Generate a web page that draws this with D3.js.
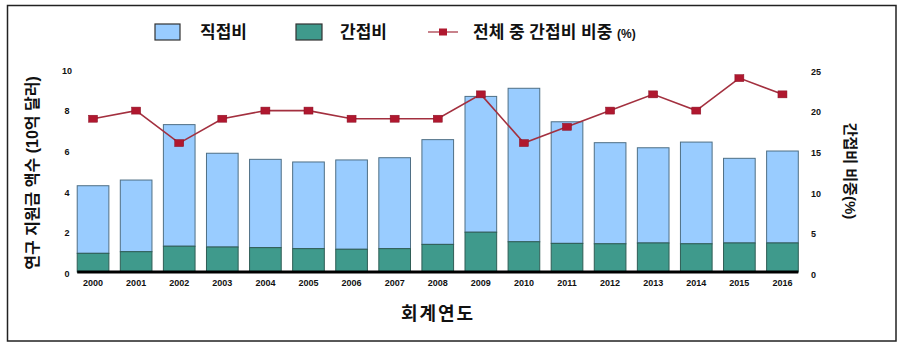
<!DOCTYPE html>
<html><head><meta charset="utf-8">
<script src="https://cdn.jsdelivr.net/npm/d3@7"></script>
<style>
html,body{margin:0;padding:0;background:#fff;}
svg text{font-family:"Liberation Sans","Noto Sans CJK KR",sans-serif;}
</style></head>
<body>
<svg id="c" width="906" height="360"></svg>
<script>
const years = ["2000","2001","2002","2003","2004","2005","2006","2007","2008","2009","2010","2011","2012","2013","2014","2015","2016"];
const indirect = [0.92,1.0,1.27,1.23,1.2,1.15,1.12,1.15,1.36,1.96,1.49,1.41,1.39,1.43,1.39,1.43,1.43];
const totals = [4.25,4.53,7.26,5.85,5.55,5.42,5.52,5.63,6.52,8.65,9.05,7.4,6.37,6.12,6.4,5.6,5.96];
const direct = totals.map((t,i)=>+(t-indirect[i]).toFixed(2));
const sharePct = [19,20,16,19,20,20,19,19,19,22,16,18,20,22,20,24,22];
const leftTicks = [0,2,4,6,8,10];
const rightTicks = [0,5,10,15,20,25];
const seriesNames = ["직접비","간접비","전체 중 간접비 비중"];

const svg = d3.select("#c");
const blue="#99CCFF", green="#3F9A8C", lineC="#A3303F", markC="#B0182F";

// frame
svg.append("rect").attr("x",7.5).attr("y",5.5).attr("width",888.5).attr("height",335.5)
  .attr("fill","none").attr("stroke","#222").attr("stroke-width",1.5);

const x = d3.scaleBand().domain(years).range([71.5,804]).paddingInner(0.265).paddingOuter(0.1325);
const yL = d3.scaleLinear().domain([0,10]).range([272,69]);
const yR = d3.scaleLinear().domain([0,25]).range([273,70]);

// bars
const g = svg.append("g");
years.forEach((yr,i)=>{
  g.append("rect").attr("x",x(yr)).attr("width",x.bandwidth())
   .attr("y",yL(indirect[i]+direct[i])).attr("height",yL(indirect[i])-yL(indirect[i]+direct[i]))
   .attr("fill",blue).attr("stroke","#4F6F85").attr("stroke-width",1);
  g.append("rect").attr("x",x(yr)).attr("width",x.bandwidth())
   .attr("y",yL(indirect[i])).attr("height",yL(0)-yL(indirect[i]))
   .attr("fill",green).attr("stroke","#2F5D55").attr("stroke-width",1);
});
// baseline
svg.append("line").attr("x1",x(years[0])).attr("x2",x(years[years.length-1])+x.bandwidth())
  .attr("y1",yL(0)).attr("y2",yL(0)).attr("stroke","#000").attr("stroke-width",3);

// line
const line = d3.line().x((d,i)=>x(years[i])+x.bandwidth()/2).y(d=>yR(d));
svg.append("path").datum(sharePct).attr("d",line).attr("fill","none").attr("stroke",lineC).attr("stroke-width",1.6);
svg.selectAll(".mk").data(sharePct).enter().append("rect")
  .attr("x",(d,i)=>x(years[i])+x.bandwidth()/2-4.5).attr("y",d=>yR(d)-3.5)
  .attr("width",9).attr("height",7).attr("fill",markC).attr("stroke","#8a1025").attr("stroke-width",0.5);

// axes
const axL = d3.axisLeft(yL).tickValues(leftTicks).tickSize(0).tickPadding(0);
const gl = svg.append("g").attr("transform","translate(71,1.5)").call(axL);
gl.select(".domain").remove();
gl.selectAll("text").attr("font-size",9).attr("font-weight","bold").attr("fill","#111").attr("text-anchor","middle").attr("dx",-4);

const axR = d3.axisRight(yR).tickValues(rightTicks).tickSize(0).tickPadding(0);
const gr = svg.append("g").attr("transform","translate(811,1.5)").call(axR);
gr.select(".domain").remove();
gr.selectAll("text").attr("font-size",9).attr("font-weight","bold").attr("fill","#111");

const axB = d3.axisBottom(x).tickSize(0).tickPadding(0);
const gb = svg.append("g").attr("transform","translate(0,282)").call(axB);
gb.select(".domain").remove();
gb.selectAll("text").attr("font-size",9).attr("font-weight","bold").attr("fill","#111").attr("dy","0.4em");

// axis titles
svg.append("text").attr("transform","translate(38,173) rotate(-90)").attr("text-anchor","middle")
  .attr("font-size",16).attr("font-weight","bold").attr("fill","#111").text("연구 지원금 액수 (10억 달러)");
svg.append("text").attr("transform","translate(845,171) rotate(90)").attr("text-anchor","middle")
  .attr("font-size",15).attr("font-weight","bold").attr("fill","#111")
  .text("간접비 비중(%)");
svg.append("text").attr("x",438).attr("y",320).attr("text-anchor","middle")
  .attr("font-size",18).attr("font-weight","bold").attr("letter-spacing",2).attr("fill","#111").text("회계연도");

// legend
const lg = svg.append("g");
lg.append("rect").attr("x",155).attr("y",24).attr("width",25).attr("height",16).attr("fill",blue).attr("stroke","#333").attr("stroke-width",1.2);
lg.append("text").attr("x",200).attr("y",38).attr("font-size",17).attr("font-weight","bold").attr("fill","#111").text(seriesNames[0]);
lg.append("rect").attr("x",296).attr("y",24).attr("width",26).attr("height",16).attr("fill",green).attr("stroke","#333").attr("stroke-width",1.2);
lg.append("text").attr("x",340).attr("y",38).attr("font-size",17).attr("font-weight","bold").attr("fill","#111").text(seriesNames[1]);
lg.append("line").attr("x1",428).attr("x2",458).attr("y1",32).attr("y2",32).attr("stroke",lineC).attr("stroke-width",1.2);
lg.append("rect").attr("x",439).attr("y",28.5).attr("width",8).attr("height",7).attr("fill",markC);
const lt = lg.append("text").attr("x",473).attr("y",38).attr("font-size",17).attr("font-weight","bold").attr("fill","#111");
lt.append("tspan").text(seriesNames[2]+" ");
lt.append("tspan").attr("font-size",12).text("(%)");
</script>
</body></html>
